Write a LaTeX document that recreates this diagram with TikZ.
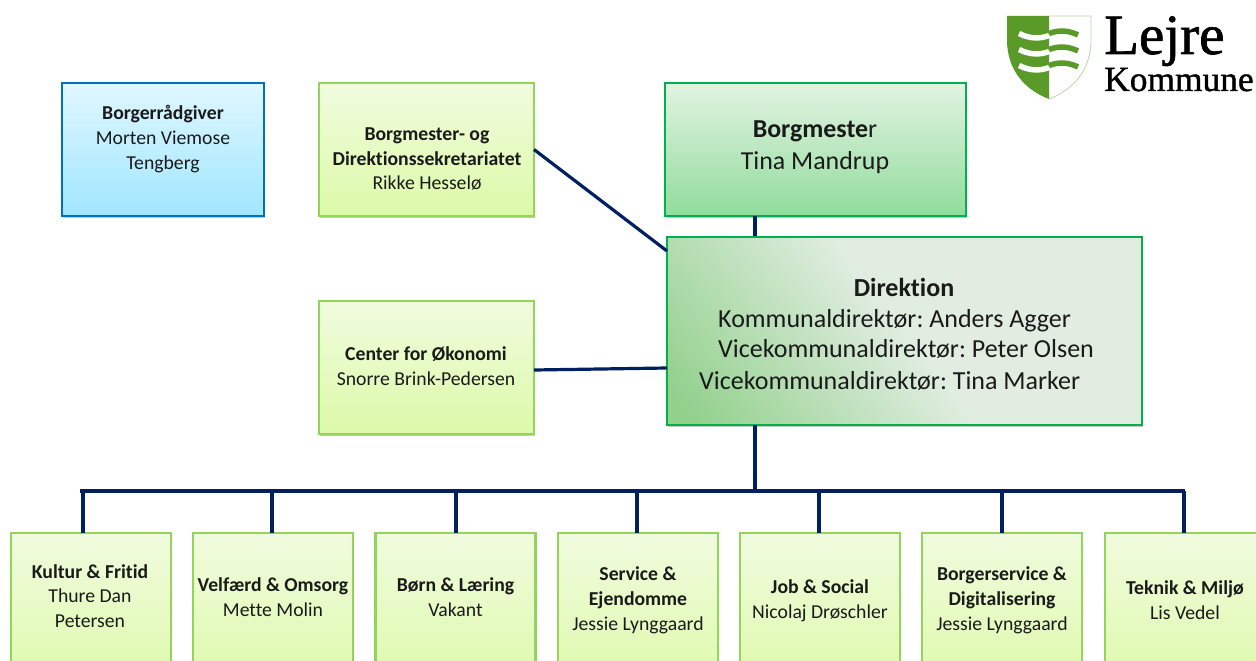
\documentclass[tikz,border=0pt]{standalone}
\usepackage{fontspec}
\setmainfont[Ligatures=CommonOff]{Carlito}
\newfontfamily\logofont[FakeBold=1.2]{Liberation Serif}
\newfontfamily\logofontb[FakeBold=1.1]{Liberation Serif}
\usetikzlibrary{shadows}
\definecolor{navy}{HTML}{002060}
\definecolor{limeedge}{HTML}{94D45A}
\definecolor{limetop}{HTML}{F1FBDF}
\definecolor{limebot}{HTML}{DCFAA8}
\definecolor{blueedge}{HTML}{0070C0}
\definecolor{bluetop}{HTML}{E0F7FF}
\definecolor{bluebot}{HTML}{A0E6FF}
\definecolor{greenedge}{HTML}{00B050}
\definecolor{greentop}{HTML}{E2F3E2}
\definecolor{greenbot}{HTML}{92DC9C}
\definecolor{dirdark}{HTML}{92D08C}
\definecolor{dirlight}{HTML}{E0EDE0}
\definecolor{shieldgreen}{HTML}{5A9A28}
\definecolor{ink}{HTML}{1A1A1A}
\pgfdeclareverticalshading{dirshade}{100bp}{color(0bp)=(dirdark); color(18bp)=(dirdark); color(50bp)=(dirlight); color(100bp)=(dirlight)}
\tikzset{
  x=1pt,y=-1pt,
  boxbase/.style={anchor=north west,line width=2.8pt,inner sep=0pt,outer sep=0pt,
    drop shadow={shadow xshift=1pt,shadow yshift=-2pt,opacity=.22,fill=black}},
  limebox/.style={boxbase,draw=limeedge,top color=limetop,bottom color=limebot},
  bluebox/.style={boxbase,draw=blueedge,top color=bluetop,bottom color=bluebot},
  greenbox/.style={boxbase,draw=greenedge,top color=greentop,bottom color=greenbot},
  dirbox/.style={boxbase,draw=greenedge,shading=dirshade,shading angle=308},
  small/.style={align=center,text=ink,inner sep=0pt,font=\frenchspacing\fontsize{19.7}{24.8}\selectfont},
  big/.style={align=left,text=ink,inner sep=0pt,anchor=base west,font=\frenchspacing\fontsize{26}{30}\selectfont},
  bigc/.style={align=center,text=ink,inner sep=0pt,font=\frenchspacing\fontsize{25.9}{32}\selectfont},
  link/.style={draw=navy,line width=3.2pt},
  wave/.style={line width=5.5pt},
  logotext/.style={anchor=base west,inner sep=0pt,text=black},
}
\newcommand{\lowbox}[3]{\node[limebox,minimum width=160pt,minimum height=160pt] (#1) at (#2,533) {};}
\begin{document}
\begin{tikzpicture}
\clip (0,0) rectangle (1256,661);
% connectors
\coordinate (busL) at (80,491);
\coordinate (busR) at (1185,491);
\coordinate (d1) at (83,491);
\coordinate (d2) at (272,491);
\coordinate (d3) at (456,491);
\coordinate (d4) at (637,491);
\coordinate (d5) at (819,491);
\coordinate (d6) at (1002,491);
\coordinate (d7) at (1184,491);
\coordinate (d0) at (755,491);
% boxes
\node[bluebox,minimum width=202pt,minimum height=133pt] (rad) at (62,83) {};
\node[limebox,minimum width=215pt,minimum height=133pt] (sek) at (319,83) {};
\node[greenbox,minimum width=301pt,minimum height=133pt] (bm) at (665,83) {};
\node[limebox,minimum width=215pt,minimum height=133pt] (oko) at (319,301) {};
\lowbox{k1}{11}{}
\lowbox{k2}{193}{}
\lowbox{k3}{375.5}{}
\lowbox{k4}{558}{}
\lowbox{k5}{740}{}
\lowbox{k6}{922}{}
\lowbox{k7}{1105}{}
\coordinate (tap) at (755,237);
\draw[link] (tap |- bm.south) -- (tap);
\node[dirbox,minimum width=475pt,minimum height=188pt] (dir) at (667,237) {};
\draw[link] (sek.east) -- ([yshift=-14pt]dir.north west);
\draw[link] ([yshift=-2.5pt]oko.east) -- ([yshift=-0.5pt]dir.west |- oko.east);
\draw[link] (d0 |- dir.south) -- (d0);
\draw[link] (busL) -- (busR);
\foreach \d/\k in {d1/k1,d2/k2,d3/k3,d4/k4,d5/k5,d6/k6,d7/k7}
  \draw[link] (\d) -- (\d |- \k.north);
% labels
\node[small] (trad) at (163,139) {\textbf{Borgerrådgiver}\\Morten Viemose\\Tengberg};
\node[small] (tsek) at (427,159) {\textbf{Borgmester- og}\\\textbf{Direktionssekretariatet}\\Rikke Hesselø};
\node[bigc] (tbm) at (815,147) {\textbf{Borgmeste}r\\Tina Mandrup};
\node[small] (toko) at (426,366) {\textbf{Center for Økonomi}\\Snorre Brink-Pedersen};
\node[big,anchor=base] (td1) at (904,296) {\textbf{Direktion}};
\node[big] (td2) at (718,327) {Kommunaldirektør: Anders Agger};
\node[big] (td3) at (718,357) {Vicekommunaldirektør: Peter Olsen};
\node[big] (td4) at (699,389) {Vicekommunaldirektør: Tina Marker};
\node[small] (t1) at (90,596) {\textbf{Kultur \& Fritid}\\Thure Dan\\Petersen};
\node[small] (t2) at (273,597) {\textbf{Velfærd \& Omsorg}\\Mette Molin};
\node[small] (t3) at (455.5,597) {\textbf{Børn \& Læring}\\Vakant};
\node[small] (t4) at (638,600) {\textbf{Service \&}\\\textbf{Ejendomme}\\Jessie Lynggaard};
\node[small] (t5) at (820,601) {\textbf{Job \& Social}\\Nicolaj Drøschler};
\node[small] (t6) at (1002,600) {\textbf{Borgerservice \&}\\\textbf{Digitalisering}\\Jessie Lynggaard};
\node[small] (t7) at (1185,600) {\textbf{Teknik \& Miljø}\\Lis Vedel};
% logo
\fill[white] (1007,16) -- (1091,16) -- (1091,40) .. controls (1091,70) and (1073,90) .. (1049,99) .. controls (1025,90) and (1007,70) .. (1007,40) -- cycle;
\fill[shieldgreen] (1007,16) -- (1049,16) -- (1049,99) .. controls (1025,90) and (1007,70) .. (1007,40) -- cycle;
\draw[shieldgreen!45,line width=.7pt] (1049,16) -- (1091,16) -- (1091,40) .. controls (1091,70) and (1073,90) .. (1049,99);
\foreach \s in {0,16,32}{
  \draw[white,wave] (1019,33.5+\s) .. controls (1030,39+\s) and (1040,39+\s) .. (1049,35.5+\s);
  \draw[shieldgreen,wave] (1049,33.5+\s) .. controls (1058,30+\s) and (1068,30+\s) .. (1078,35+\s);
}
\node[logotext,font=\logofont\fontsize{57}{57}\selectfont] (lejre) at (1104,54) {Lejre};
\node[logotext,font=\logofontb\fontsize{35.4}{35.4}\selectfont] (komm) at (1104,91) {Kommune};
\end{tikzpicture}
\end{document}
